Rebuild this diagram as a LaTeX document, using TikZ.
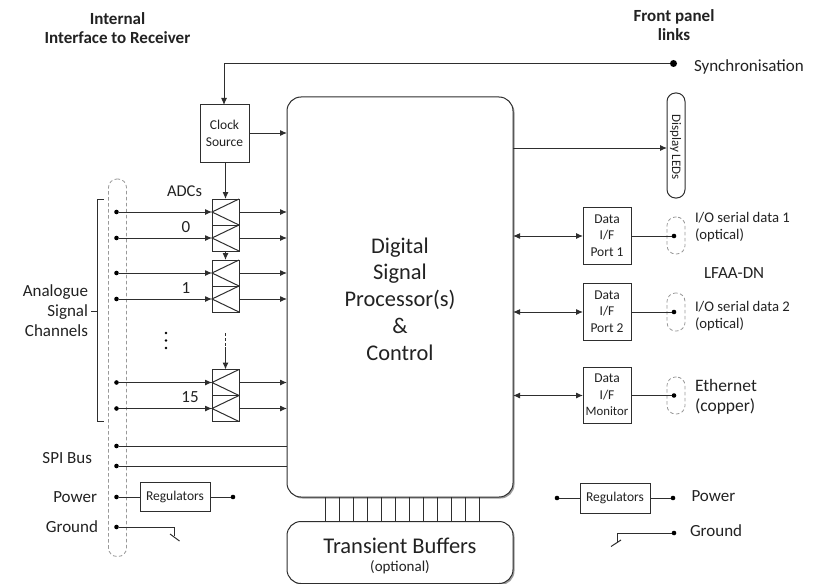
\documentclass[tikz,border=0pt]{standalone}
\usepackage{fontspec}
\setmainfont{Carlito}
\usetikzlibrary{arrows.meta,shadows,calc}
\definecolor{ink}{HTML}{2e2e2e}
\definecolor{txt}{HTML}{222222}
\definecolor{dashgray}{HTML}{999999}
\tikzset{
  x=1pt,y=-1pt,
  every node/.style={text=txt,font=\fontsize{17}{19}\selectfont},
  ln/.style={draw=ink,line width=1pt},
  arr/.style={ln,-{Latex[length=7pt,width=6pt]}},
  darr/.style={ln,{Latex[length=7pt,width=6pt]}-{Latex[length=7pt,width=6pt]}},
  dot/.style={circle,fill=black,draw=none,minimum size=4.6pt,inner sep=0pt,outer sep=0pt},
  bigdot/.style={dot,minimum size=7pt},
  boxn/.style={draw=ink,line width=1pt,rectangle,inner sep=0pt,outer sep=0pt,align=center,fill=white,font=\fontsize{13.5}{16.5}\selectfont},
  cell/.style={boxn,minimum width=27pt,minimum height=26pt,fill=none},
  bigbox/.style={ln,rounded corners=14pt,fill=white,inner sep=0pt,outer sep=0pt,
     drop shadow={shadow xshift=1.5pt,shadow yshift=-1.5pt,fill=black!65,opacity=0.6}},
  capsule/.style={draw=dashgray,dashed,dash pattern=on 3.5pt off 2.5pt,line width=0.8pt,rounded corners=8.5pt,rectangle,minimum width=18pt,inner sep=0pt,outer sep=0pt},
  lbl/.style={inner sep=0pt,outer sep=0pt,align=left},
  lblr/.style={inner sep=0pt,outer sep=0pt,align=right},
}
\newcommand{\adc}[3]{%
  \node[cell] (#1t) at (225.5,#2) {};
  \node[cell] (#1b) at (225.5,#3) {};
  \draw[ln] (#1t.north east) -- (#1t.west) -- (#1t.south east);
  \draw[ln] (#1b.north east) -- (#1b.west) -- (#1b.south east);
}
\begin{document}
\begin{tikzpicture}
\useasboundingbox (0,0) rectangle (821,583);
\clip (0,0) rectangle (821,583);
% capsules behind
\node[capsule,minimum height=377.5pt] (bus) at (117.5,367.75) {};
\node[capsule,minimum height=37pt] (c1) at (676,235.5) {};
\node[capsule,minimum height=38pt] (c2) at (676,312) {};
\node[capsule,minimum height=37pt] (c3) at (676,395.5) {};
% main blocks
\node[bigbox,minimum width=226pt,minimum height=400pt] (dsp) at (400,297) {};
\node[bigbox,minimum width=226pt,minimum height=62pt] (buf) at (400,552.5) {};
\node[inner sep=0pt,align=center,font=\fontsize{22.4}{26.8}\selectfont] (dsplabel) at (400,299) {Digital\\Signal\\Processor(s)\\\&\\Control};
\node[inner sep=0pt,font=\fontsize{22.5}{24}\selectfont] (buflabel) at (400,546) {Transient Buffers};
\node[inner sep=0pt,font=\fontsize{15}{15}\selectfont] (bufopt) at (400,567) {(optional)};
% clock
\node[boxn,minimum width=49pt,minimum height=57pt] (clk) at (224.5,133.5) {Clock\\Source};
\node[bigdot] (sync) at (673.5,63.5) {};
\coordinate (synctop) at (224,63.5);
\draw[arr] (sync) -- (synctop) -- (synctop |- clk.north);
\draw[arr] (clk.east |- 0,133) -- (dsp.west |- 0,133);
% ADCs
\adc{a}{212}{238}
\adc{b}{273}{299}
\adc{c}{382.5}{408.5}
\draw[arr] (clk.south -| at.north) -- (at.north);
\draw[arr] (ab.south) -- (bt.north);
\coordinate (dashstart) at (225.5,333);
\coordinate (dashend) at (225.5,347);
\draw[ln,dashed,dash pattern=on 3pt off 2pt] (dashstart) -- (dashend);
\draw[arr] (dashend) -- (ct.north);
\foreach \n in {at,ab,bt,bb,ct,cb}{
  \node[dot] (d\n) at (116.5,0 |- \n.west) {};
  \draw[arr] (d\n) -- (\n.west);
  \draw[arr] (\n.east) -- (\n.east -| dsp.west);
}
\node[lbl,font=\fontsize{16.5}{19}\selectfont] (adcs) at (184.5,191) {ADCs};
\node[lbl] (n0) at (186,227) {0};
\node[lbl] (n1) at (186,288) {1};
\node[lbl] (n15) at (190,397) {15};
\node[dot,minimum size=2.6pt] (v1) at (166,333) {};
\node[dot,minimum size=2.6pt] (v2) at (166,340.5) {};
\node[dot,minimum size=2.6pt] (v3) at (166,348) {};
% bracket
\coordinate (br1) at (104,199);
\coordinate (br2) at (97,199);
\coordinate (br3) at (97,421.5);
\coordinate (br4) at (104,421.5);
\coordinate (br5) at (91,311);
\draw[ln,line width=0.7pt] (br1) -- (br2) -- (br3) -- (br4);
\draw[ln,line width=0.7pt] (br5) -- (br5 -| br2);
\node[lblr,anchor=east] (asc) at (88,311) {Analogue\\[1pt]Signal\\[1pt]Channels};
% SPI, power, ground
\node[dot] (s1) at (116.5,446) {};
\node[dot] (s2) at (116.5,466) {};
\draw[ln] (s1) -- (s1 -| dsp.west);
\draw[ln] (s2) -- (s2 -| dsp.west);
\node[dot] (pw) at (116.5,497) {};
\node[boxn,minimum width=70pt,minimum height=29.5pt] (regl) at (175,496.75) {Regulators};
\node[dot] (pwo) at (233,497) {};
\draw[ln] (pw) -- (regl.west |- pw);
\draw[ln] (regl.east |- pwo) -- (pwo);
\node[dot] (gl) at (116.5,527) {};
\coordinate (gl1) at (174,527);
\coordinate (gl2) at (174,536);
\coordinate (gl3) at (170,534);
\coordinate (gl4) at (179.5,541);
\draw[ln] (gl) -- (gl1) -- (gl2);
\draw[ln] (gl3) -- (gl4);
\node[lblr,anchor=east] (spi) at (92,458) {SPI Bus};
\node[lblr,anchor=east] (power) at (97,497) {Power};
\node[lblr,anchor=east] (ground) at (98,527) {Ground};
% titles
\node[inner sep=0pt,align=center,font=\bfseries\fontsize{17}{19}\selectfont] (t1) at (117.5,28) {Internal\\Interface to Receiver};
\node[inner sep=0pt,align=center,font=\bfseries\fontsize{17}{19}\selectfont] (t2) at (674,25) {Front panel\\links};
\node[lbl,anchor=west] (syncl) at (694,67) {Synchronisation};
% display
\node[draw=ink,line width=1pt,rectangle,rounded corners=8.5pt,minimum width=18pt,minimum height=105pt,inner sep=0pt,outer sep=0pt,fill=white] (leds) at (676,145.5) {};
\node[inner sep=0pt,rotate=-90,font=\fontsize{13}{14}\selectfont] (ledl) at (675.5,147) {Display LEDs};
\coordinate (ledy) at (600,148);
\draw[arr] (dsp.east |- ledy) -- (leds.west |- ledy);
% data ports
\node[boxn,minimum width=48pt,minimum height=57pt] (p1) at (607,235.5) {Data\\I/F\\Port 1};
\node[boxn,minimum width=48pt,minimum height=57pt] (p2) at (607,311.5) {Data\\I/F\\Port 2};
\node[boxn,minimum width=48pt,minimum height=56pt] (p3) at (607,395) {Data\\I/F\\{\fontsize{12.8}{14}\selectfont Monitor}};
\node[dot] (o1) at (674,236) {};
\node[dot] (o2) at (674,312) {};
\node[dot] (o3) at (674,395.5) {};
\foreach \i in {1,2,3}{
  \draw[darr] (dsp.east |- o\i) -- (p\i.west |- o\i);
  \draw[ln] (p\i.east |- o\i) -- (o\i);
}
\node[lbl,anchor=west,font=\fontsize{14.7}{17}\selectfont] (l1) at (695,227.5) {I/O serial data 1\\(optical)};
\node[lbl,anchor=west] (lfaa) at (704,273) {LFAA-DN};
\node[lbl,anchor=west,font=\fontsize{14.7}{17}\selectfont] (l2) at (695,316) {I/O serial data 2\\(optical)};
\node[lbl,anchor=west,font=\fontsize{17.5}{20}\selectfont] (l3) at (695,397) {Ethernet\\(copper)};
% right regulators
\node[boxn,minimum width=70pt,minimum height=30pt] (regr) at (615,498) {Regulators};
\node[dot] (rl) at (557,498) {};
\node[dot] (rr) at (673,498) {};
\draw[ln] (rl) -- (regr.west |- rl);
\draw[ln] (regr.east |- rr) -- (rr);
\node[lbl,anchor=west] (powr) at (691.5,496) {Power};
\node[dot] (gr) at (674,533) {};
\coordinate (gr1) at (617,533);
\coordinate (gr2) at (617,543);
\coordinate (gr3) at (621,540);
\coordinate (gr4) at (611,546.5);
\draw[ln] (gr) -- (gr1) -- (gr2);
\draw[ln] (gr3) -- (gr4);
\node[lbl,anchor=west] (grl) at (690,531) {Ground};
% memory bus
\foreach \k [count=\j] in {325,339,353,367,381,395,409,423,437,451,465,479}{
  \coordinate (mt\j) at (\k,497);
  \draw[ln,line width=0.7pt] (mt\j) -- (mt\j |- buf.north);
}
\end{tikzpicture}
\end{document}
